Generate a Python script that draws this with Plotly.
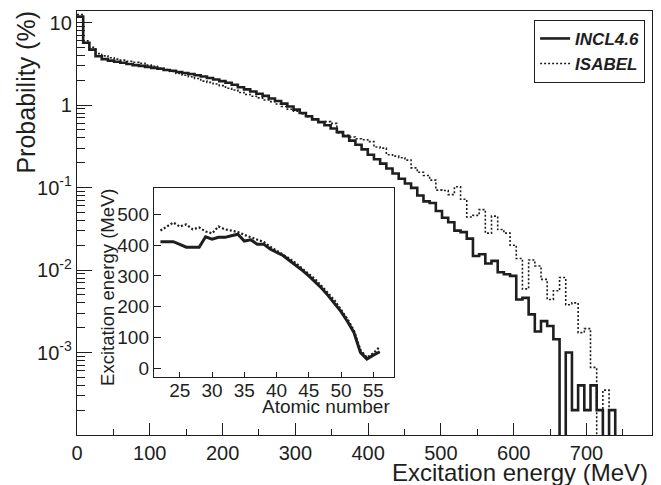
import numpy as np
import plotly.graph_objects as go

# ---------------- data ----------------
BIN_WIDTH = 8.5  # MeV

incl46 = [11.8, 5.7, 4.7, 3.9, 3.6, 3.45, 3.35, 3.25, 3.15, 3.05,
          2.98, 2.9, 2.82, 2.75, 2.66, 2.6, 2.52, 2.45, 2.38, 2.3,
          2.22, 2.13, 2.04, 1.95, 1.86, 1.76, 1.64, 1.55, 1.46, 1.37,
          1.29, 1.2, 1.12, 1.04, 0.96, 0.88, 0.8, 0.73, 0.67, 0.62,
          0.57, 0.52, 0.47, 0.42, 0.37, 0.33, 0.29, 0.25, 0.22, 0.195,
          0.17, 0.148, 0.128, 0.112, 0.099, 0.080, 0.068, 0.065, 0.052, 0.043,
          0.038, 0.030, 0.0288, 0.024, 0.0148, 0.0155, 0.012, 0.0129, 0.0094, 0.0089,
          0.0085, 0.0044, 0.0046, 0.0029, 0.0018, 0.0024, 0.0021, 0.00145, 0, 0.001,
          0.0002, 0.0004, 0.0002, 0.0004, 0.0002, 0, 0.0002, 0, 0, 0,
          0, 0, 0]

isabel = [12.5, 6.0, 5.0, 4.2, 3.95, 3.75, 3.6, 3.5, 3.4, 3.3,
          3.2, 3.05, 2.95, 2.8, 2.7, 2.55, 2.42, 2.3, 2.2, 2.1,
          1.95, 1.88, 1.8, 1.72, 1.6, 1.52, 1.42, 1.34, 1.28, 1.22,
          1.15, 1.1, 1.03, 0.96, 0.89, 0.84, 0.78, 0.72, 0.67, 0.62,
          0.63, 0.6, 0.46, 0.43, 0.41, 0.39, 0.38, 0.36, 0.31, 0.30,
          0.25, 0.24, 0.23, 0.215, 0.173, 0.153, 0.14, 0.123, 0.093, 0.092,
          0.082, 0.102, 0.072, 0.044, 0.046, 0.054, 0.028, 0.045, 0.031, 0.028,
          0.020, 0.0138, 0.0059, 0.0132, 0.0112, 0.0077, 0.0044, 0.0056, 0.0081, 0.0038,
          0.0040, 0.00174, 0.00195, 0.00066, 0, 0.00035, 0, 0, 0, 0,
          0, 0, 0]

# inset: mean excitation energy vs atomic number
atomic_number = list(range(22, 57))
incl46_ex = [411, 412, 411, 402, 393, 393, 393, 427, 419, 425,
             425, 430, 435, 413, 417, 403, 403, 387, 377, 366,
             350, 335, 318, 300, 281, 260, 236, 211, 184, 152,
             116, 52, 30, 43, 54]
isabel_ex = [447, 460, 473, 460, 467, 451, 457, 444, 438, 460,
             451, 447, 442, 433, 425, 419, 410, 395, 382, 371,
             356, 341, 325, 306, 289, 268, 244, 220, 191, 160,
             122, 60, 35, 49, 70]

x_ticks = [0, 100, 200, 300, 400, 500, 600, 700]
y_ticks = [1e-3, 1e-2, 1e-1, 1, 10]
y_ticktext = ["10<sup>-3</sup>", "10<sup>-2</sup>", "10<sup>-1</sup>", "1", "10"]
inset_x_ticks = [25, 30, 35, 40, 45, 50, 55]
inset_y_ticks = [0, 100, 200, 300, 400, 500]

# ---------------- helpers ----------------
FONT = "Liberation Sans, Arial, Helvetica, sans-serif"
INK = "#1e1e1e"


def step_xy(values):
    vals = np.asarray(values, dtype=float)
    edges = np.arange(len(vals) + 1) * BIN_WIDTH
    y = np.where(vals > 0, vals, 1e-9)  # empty bins drop to the axis floor
    return edges, np.append(y, y[-1])


fig = go.Figure()

xe, ye = step_xy(incl46)
fig.add_trace(go.Scatter(x=xe, y=ye, mode="lines", line_shape="hv",
                         line=dict(color=INK, width=2.6),
                         name="<b><i>INCL4.6</i></b>", xaxis="x", yaxis="y"))
xe, ye = step_xy(isabel)
fig.add_trace(go.Scatter(x=xe, y=ye, mode="lines", line_shape="hv",
                         line=dict(color=INK, width=1.6, dash="2px,2px"),
                         name="<b><i>ISABEL</i></b>", xaxis="x", yaxis="y"))

fig.add_trace(go.Scatter(x=atomic_number, y=incl46_ex, mode="lines",
                         line=dict(color=INK, width=3), showlegend=False,
                         xaxis="x2", yaxis="y2"))
fig.add_trace(go.Scatter(x=atomic_number, y=isabel_ex, mode="lines",
                         line=dict(color=INK, width=2.2, dash="2px,2px"), showlegend=False,
                         xaxis="x2", yaxis="y2"))

minor_x = [50, 150, 250, 350, 450, 550, 650, 750]
minor_y = [m * 10.0 ** e for e in range(-4, 2) for m in range(2, 10) if m * 10.0 ** e < 14]

axis_common = dict(showgrid=False, zeroline=False, showline=True, mirror=True,
                   linecolor=INK, linewidth=1.4, ticks="inside", tickcolor=INK,
                   tickwidth=1.2, automargin=False)

fig.update_layout(
    template="none",
    width=661, height=485,
    margin=dict(l=77, r=9, t=11, b=50, autoexpand=False),
    paper_bgcolor="white", plot_bgcolor="white",
    font=dict(family=FONT, color=INK),
    xaxis=dict(**axis_common, domain=[0, 1], anchor="y", range=[0, 790],
               tickmode="array", tickvals=x_ticks, ticklen=12,
               minor=dict(tickvals=minor_x, ticklen=6, ticks="inside", tickcolor=INK),
               tickfont=dict(size=20, family=FONT, color=INK)),
    yaxis=dict(**axis_common, domain=[0, 1], anchor="x", type="log", range=[-4, 1.14],
               tickmode="array", tickvals=y_ticks, ticktext=y_ticktext, ticklen=15,
               minor=dict(tickvals=minor_y, ticklen=8, ticks="inside", tickcolor=INK),
               tickfont=dict(size=20, family=FONT, color=INK)),
    xaxis2=dict(**axis_common, domain=[0.1339, 0.5518], anchor="y2", range=[21, 58.25],
                tickmode="array", tickvals=inset_x_ticks, ticklen=5,
                ticklabelstandoff=-4,
                tickfont=dict(size=19, family=FONT, color=INK)),
    yaxis2=dict(**axis_common, domain=[0.1375, 0.5818], anchor="x2", range=[-27, 584],
                tickmode="array", tickvals=inset_y_ticks, ticklen=7,
                tickfont=dict(size=19, family=FONT, color=INK)),
    legend=dict(x=0.988, y=0.979, xanchor="right", yanchor="top",
                bgcolor="white", bordercolor=INK, borderwidth=1,
                font=dict(size=17, family=FONT, color=INK),
                itemwidth=30, tracegroupgap=0),
    showlegend=True,
)

annotations = [
    dict(text="Excitation energy (MeV)", xref="paper", yref="paper",
         x=0.9965, y=-0.088, xanchor="right", yanchor="middle", showarrow=False,
         font=dict(size=24, family=FONT, color=INK)),
    dict(text="Probability (%)", xref="paper", yref="paper", textangle=-90,
         x=-0.0887, y=0.81, xanchor="center", yanchor="middle", showarrow=False,
         font=dict(size=25, family=FONT, color=INK)),
    dict(text="Atomic number", xref="paper", yref="paper",
         x=0.5485, y=0.068, xanchor="right", yanchor="middle", showarrow=False,
         font=dict(size=19, family=FONT, color=INK)),
    dict(text="Excitation energy (MeV)", xref="paper", yref="paper", textangle=-90,
         x=0.053, y=0.348, xanchor="center", yanchor="middle", showarrow=False,
         font=dict(size=18.5, family=FONT, color=INK)),
]
fig.update_layout(annotations=annotations)

fig.write_html("out.html", config={"displayModeBar": False},
               post_script="document.body.style.margin='0';")
